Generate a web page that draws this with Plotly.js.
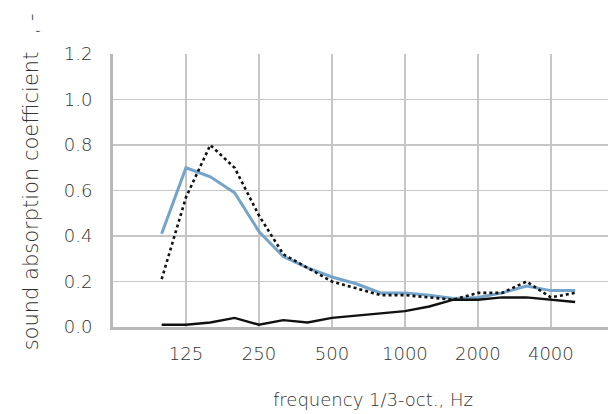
<!DOCTYPE html>
<html>
<head>
<meta charset="utf-8">
<script src="https://cdn.plot.ly/plotly-3.0.1.min.js"></script>
<style>html,body{margin:0;padding:0;background:#fff;}#chart{width:608px;height:414px;}</style>
</head>
<body>
<div id="chart"></div>
<script>
var frequencies = ['100','125','160','200','250','315','400','500','630','800','1000','1250','1600','2000','2500','3150','4000','5000'];
var seriesBlue = [0.41,0.70,0.66,0.59,0.42,0.31,0.26,0.22,0.19,0.15,0.15,0.14,0.125,0.13,0.15,0.18,0.16,0.16];
var seriesDotted = [0.21,0.57,0.80,0.70,0.49,0.32,0.26,0.20,0.17,0.14,0.14,0.13,0.12,0.15,0.15,0.20,0.13,0.15];
var seriesBlack = [0.01,0.01,0.02,0.04,0.01,0.03,0.02,0.04,0.05,0.06,0.07,0.09,0.12,0.12,0.13,0.13,0.12,0.11];
var xTickLabels = ['125','250','500','1000','2000','4000'];
var yTickVals = [0,0.2,0.4,0.6,0.8,1.0,1.2];
var yTickLabels = ['0.0','0.2','0.4','0.6','0.8','1.0','1.2'];

var fontFam = 'DejaVu Sans, sans-serif';
var txtColor = '#333333';
var traces = [
  {x: frequencies, y: seriesBlue, type:'scatter', mode:'lines', line:{color:'#74a4c9', width:3}, hoverinfo:'none'},
  {x: frequencies, y: seriesDotted, type:'scatter', mode:'lines', line:{color:'#111111', width:2.6, dash:'dot'}, hoverinfo:'none'},
  {x: frequencies, y: seriesBlack, type:'scatter', mode:'lines', line:{color:'#111111', width:2.4}, hoverinfo:'none'}
];
var layout = {
  width:608, height:414,
  margin:{l:113, r:0, t:54, b:87},
  showlegend:false,
  paper_bgcolor:'#fff', plot_bgcolor:'#fff',
  font:{family:fontFam, size:18, color:txtColor, weight:200},
  xaxis:{
    type:'category', range:[-2, 18.35],
    tickmode:'array', tickvals:xTickLabels, ticktext:xTickLabels,
    showgrid:true, gridcolor:'#c6c6c6', gridwidth:1.6,
    showline:true, linecolor:'#b8b8b8', linewidth:3,
    ticks:'', ticklabelstandoff:8, zeroline:false,
    tickfont:{family:fontFam, size:18, color:txtColor, weight:200}
  },
  yaxis:{
    range:[0,1.2], tickmode:'array', tickvals:yTickVals, ticktext:yTickLabels,
    showgrid:true, gridcolor:'#c6c6c6', gridwidth:1.6,
    showline:true, linecolor:'#b8b8b8', linewidth:3,
    ticks:'', ticklabelstandoff:14, zeroline:false,
    tickfont:{family:fontFam, size:18, color:txtColor, weight:200}
  },
  annotations:[
    {text:'frequency 1/3-oct., Hz', xref:'paper', yref:'paper', x:0.525, y:-0.267, xanchor:'center', yanchor:'middle', showarrow:false, font:{family:fontFam, size:18, color:txtColor, weight:200}},
    {text:'sound absorption coefficient \u2002, -', xref:'paper', yref:'paper', x:-0.165, y:0.531, xanchor:'center', yanchor:'middle', textangle:-90, showarrow:false, font:{family:fontFam, size:21, color:txtColor, weight:200}}
  ]
};
Plotly.newPlot('chart', traces, layout, {staticPlot:true, displayModeBar:false});
</script>
</body>
</html>
